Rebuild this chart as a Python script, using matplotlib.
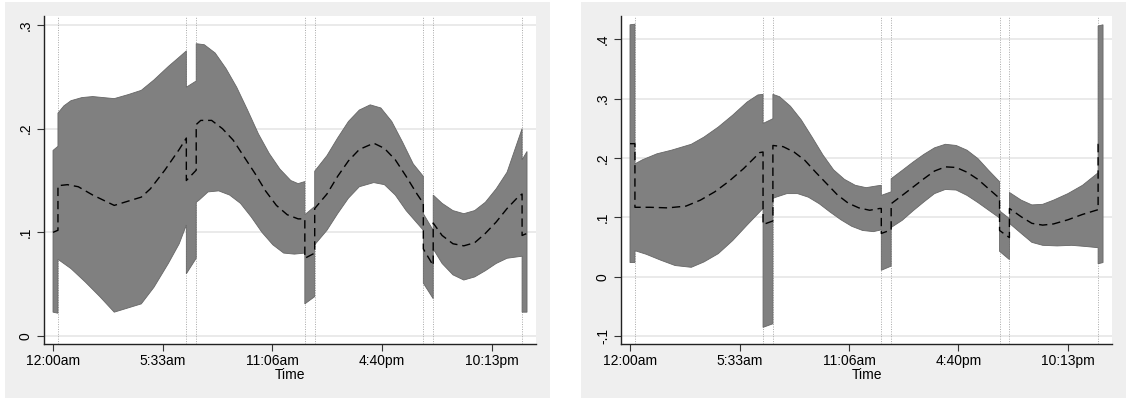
import numpy as np
import matplotlib.pyplot as plt
from matplotlib.patches import Rectangle

plt.rcParams["font.family"] = ["Liberation Sans", "DejaVu Sans"]
plt.rcParams["font.size"] = 10

# time in hours; repeated times mark the jumps at the vertical lines
breaks = [0.25, 6.75, 7.25, 12.75, 13.25, 18.75, 19.25, 23.75]
tick_pos = [0, 20000 / 3600, 40000 / 3600, 60000 / 3600, 80000 / 3600]
tick_lab = ["12:00am", "5:33am", "11:06am", "4:40pm", "10:13pm"]

# left panel
l_t_up = [0, 0.25, 0.25, 0.55, 0.91, 1.46, 2.01, 2.55, 3.10, 3.83, 4.47, 5.11, 5.84, 6.39, 6.75,
          6.75, 7.25, 7.25, 7.66, 8.21, 8.76, 9.30, 9.85, 10.40, 10.95, 11.49, 12.04, 12.41, 12.75,
          12.75, 13.25, 13.25, 13.87, 14.41, 14.96, 15.51, 16.06, 16.60, 17.15, 17.70, 18.24, 18.75,
          18.75, 19.25, 19.25, 19.70, 20.25, 20.80, 21.35, 21.89, 22.44, 22.99, 23.75, 23.75, 24.0]
l_up = [0.179, 0.183, 0.215, 0.222, 0.227, 0.230, 0.231, 0.230, 0.229, 0.233, 0.237, 0.247, 0.260, 0.269, 0.275,
        0.240, 0.246, 0.282, 0.281, 0.273, 0.258, 0.240, 0.218, 0.195, 0.176, 0.161, 0.150, 0.147, 0.149,
        0.117, 0.125, 0.159, 0.174, 0.191, 0.207, 0.218, 0.223, 0.220, 0.207, 0.187, 0.166, 0.154,
        0.118, 0.102, 0.136, 0.128, 0.121, 0.118, 0.121, 0.129, 0.142, 0.158, 0.200, 0.170, 0.178]

l_t_mid = [0, 0.25, 0.25, 0.73, 1.28, 2.01, 3.10, 4.47, 4.93, 5.66, 6.39, 6.75,
           6.75, 7.25, 7.25, 7.48, 8.03, 8.58, 9.12, 9.67, 10.22, 10.76, 11.31, 11.86, 12.41, 12.75,
           12.75, 13.25, 13.25, 13.87, 14.41, 14.96, 15.51, 16.24, 16.78, 17.33, 17.88, 18.43, 18.75,
           18.75, 19.25, 19.25, 19.70, 20.25, 20.80, 21.35, 21.89, 22.44, 22.99, 23.54, 23.75, 23.75, 24.0]
l_mid = [0.100, 0.102, 0.145, 0.146, 0.144, 0.136, 0.126, 0.134, 0.142, 0.160, 0.180, 0.191,
         0.150, 0.160, 0.204, 0.208, 0.208, 0.200, 0.189, 0.173, 0.157, 0.140, 0.126, 0.117, 0.113, 0.113,
         0.075, 0.080, 0.123, 0.137, 0.154, 0.169, 0.180, 0.186, 0.181, 0.170, 0.154, 0.137, 0.128,
         0.084, 0.068, 0.109, 0.097, 0.089, 0.087, 0.090, 0.099, 0.110, 0.123, 0.134, 0.137, 0.097, 0.099]

l_t_lo = [0, 0.25, 0.25, 0.91, 1.64, 2.37, 3.10, 4.47, 5.11, 5.84, 6.39, 6.75,
          6.75, 7.25, 7.25, 7.39, 7.85, 8.39, 8.94, 9.49, 10.03, 10.58, 11.13, 11.68, 12.22, 12.75,
          12.75, 13.25, 13.25, 13.87, 14.41, 14.96, 15.51, 16.24, 16.78, 17.33, 17.88, 18.43, 18.75,
          18.75, 19.25, 19.25, 19.70, 20.25, 20.80, 21.35, 21.89, 22.44, 22.99, 23.75, 23.75, 24.0]
l_lo = [0.023, 0.022, 0.074, 0.065, 0.052, 0.038, 0.023, 0.031, 0.047, 0.070, 0.089, 0.107,
        0.060, 0.075, 0.129, 0.131, 0.139, 0.140, 0.136, 0.128, 0.115, 0.100, 0.088, 0.080, 0.079, 0.080,
        0.031, 0.038, 0.088, 0.102, 0.118, 0.133, 0.144, 0.148, 0.146, 0.136, 0.121, 0.109, 0.102,
        0.051, 0.036, 0.084, 0.070, 0.059, 0.054, 0.057, 0.063, 0.070, 0.075, 0.077, 0.023, 0.023]

# right panel
r_t_up = [0, 0.25, 0.25, 0.64, 1.37, 2.10, 3.11, 3.75, 4.48, 5.21, 5.94, 6.49, 6.75,
          6.75, 7.25, 7.25, 7.59, 8.14, 8.69, 9.24, 9.79, 10.33, 10.88, 11.43, 11.98, 12.53, 12.75,
          12.75, 13.25, 13.25, 13.81, 14.36, 14.91, 15.45, 16.00, 16.55, 17.10, 17.65, 18.20, 18.75,
          18.75, 19.25, 19.25, 19.85, 20.39, 20.94, 21.49, 22.22, 22.96, 23.75, 23.75, 24.0]
r_up = [0.424, 0.425, 0.190, 0.197, 0.207, 0.213, 0.223, 0.235, 0.252, 0.272, 0.294, 0.306, 0.307,
        0.258, 0.266, 0.307, 0.303, 0.287, 0.264, 0.235, 0.205, 0.180, 0.164, 0.154, 0.150, 0.153, 0.154,
        0.137, 0.143, 0.165, 0.179, 0.193, 0.206, 0.217, 0.223, 0.221, 0.213, 0.199, 0.179, 0.160,
        0.111, 0.098, 0.142, 0.129, 0.121, 0.122, 0.129, 0.140, 0.154, 0.175, 0.422, 0.424]

r_t_mid = [0, 0.25, 0.25, 1.01, 1.92, 2.84, 3.57, 4.30, 5.03, 5.76, 6.58, 6.75,
           6.75, 7.25, 7.25, 7.77, 8.32, 8.87, 9.42, 9.97, 10.52, 11.07, 11.61, 12.16, 12.67, 12.75,
           12.75, 13.25, 13.25, 13.81, 14.36, 14.91, 15.45, 16.00, 16.55, 17.10, 17.65, 18.20, 18.75,
           18.75, 19.25, 19.25, 19.85, 20.39, 20.94, 21.49, 22.22, 22.96, 23.75, 23.75, 24.0]
r_mid = [0.224, 0.224, 0.117, 0.117, 0.116, 0.119, 0.129, 0.143, 0.161, 0.182, 0.209, 0.210,
         0.088, 0.094, 0.221, 0.219, 0.210, 0.196, 0.176, 0.157, 0.138, 0.124, 0.116, 0.112, 0.115, 0.115,
         0.073, 0.079, 0.123, 0.137, 0.151, 0.165, 0.178, 0.185, 0.184, 0.176, 0.164, 0.148, 0.132,
         0.078, 0.066, 0.115, 0.101, 0.090, 0.087, 0.089, 0.096, 0.105, 0.113, 0.223, 0.223]

r_t_lo = [0, 0.25, 0.25, 0.82, 1.56, 2.29, 3.11, 3.75, 4.48, 5.21, 5.94, 6.75,
          6.75, 7.25, 7.25, 7.41, 7.96, 8.50, 9.05, 9.60, 10.15, 10.70, 11.25, 11.80, 12.35, 12.75,
          12.75, 13.25, 13.25, 13.81, 14.36, 14.91, 15.45, 16.00, 16.55, 17.10, 17.65, 18.20, 18.75,
          18.75, 19.25, 19.25, 19.85, 20.39, 20.94, 21.67, 22.41, 23.14, 23.75, 23.75, 24.0]
r_lo = [0.024, 0.024, 0.044, 0.038, 0.028, 0.019, 0.016, 0.025, 0.039, 0.061, 0.087, 0.115,
        -0.085, -0.079, 0.132, 0.134, 0.140, 0.140, 0.134, 0.123, 0.109, 0.096, 0.085, 0.078, 0.076, 0.079,
        0.011, 0.018, 0.083, 0.095, 0.111, 0.126, 0.140, 0.147, 0.146, 0.137, 0.125, 0.112, 0.099,
        0.043, 0.029, 0.090, 0.073, 0.058, 0.053, 0.052, 0.053, 0.051, 0.049, 0.022, 0.024]

l_yticks = [0, 0.1, 0.2, 0.3]
l_ylab = ["0", ".1", ".2", ".3"]
r_yticks = [-0.1, 0, 0.1, 0.2, 0.3, 0.4]
r_ylab = ["-.1", "0", ".1", ".2", ".3", ".4"]

W, H = 1128, 401
fig = plt.figure(figsize=(W / 100, H / 100), dpi=100)
fig.patch.set_facecolor("white")

# light gray graph regions behind each panel
for x0, x1 in [(5, 550), (581, 1126)]:
    fig.patches.append(Rectangle((x0 / W, 3 / H), (x1 - x0) / W, (399 - 3) / H,
                                 transform=fig.transFigure, facecolor="#efefef",
                                 edgecolor="none", zorder=-10))


def panel(rect, t_up, up, t_mid, mid, t_lo, lo, yticks, ylab, ylim):
    ax = fig.add_axes(rect)
    ax.set_facecolor("white")
    ax.fill(np.r_[t_up, t_lo[::-1]], np.r_[up, lo[::-1]],
            facecolor="#808080", edgecolor="#666666", lw=0.6, zorder=2)
    ax.plot(t_mid, mid, color="black", lw=1.0, dashes=(6, 3.5), zorder=3)
    for b in breaks:
        ax.axvline(b, color="#a8a8a8", lw=0.7, ls=(0, (1, 1.5)), zorder=1)
    for y in yticks:
        ax.axhline(y, color="#e6e6e6", lw=1.2, zorder=0.5)
    ax.set_xlim(-1644 / 3600, 88037 / 3600)
    ax.set_ylim(*ylim)
    ax.set_xticks(tick_pos)
    ax.set_xticklabels(tick_lab)
    ax.set_yticks(yticks)
    ax.set_yticklabels(ylab, rotation=90, va="center")
    ax.tick_params(direction="out", length=5, width=0.8, color="#333333", pad=2)
    ax.tick_params(axis="y", pad=3)
    for s in ["top", "right"]:
        ax.spines[s].set_visible(False)
    for s in ["left", "bottom"]:
        ax.spines[s].set_color("#222222")
        ax.spines[s].set_linewidth(1.0)
    ax.set_xlabel("Time", labelpad=0)
    return ax


panel([44 / W, 1 - 344 / H, (536 - 44) / W, (344 - 16) / H],
      l_t_up, l_up, l_t_mid, l_mid, l_t_lo, l_lo, l_yticks, l_ylab, (-0.0077, 0.3087))
panel([621 / W, 1 - 344 / H, (1112 - 621) / W, (344 - 16) / H],
      r_t_up, r_up, r_t_mid, r_mid, r_t_lo, r_lo, r_yticks, r_ylab, (-0.113, 0.4388))

fig.savefig("out.png", dpi=100)
